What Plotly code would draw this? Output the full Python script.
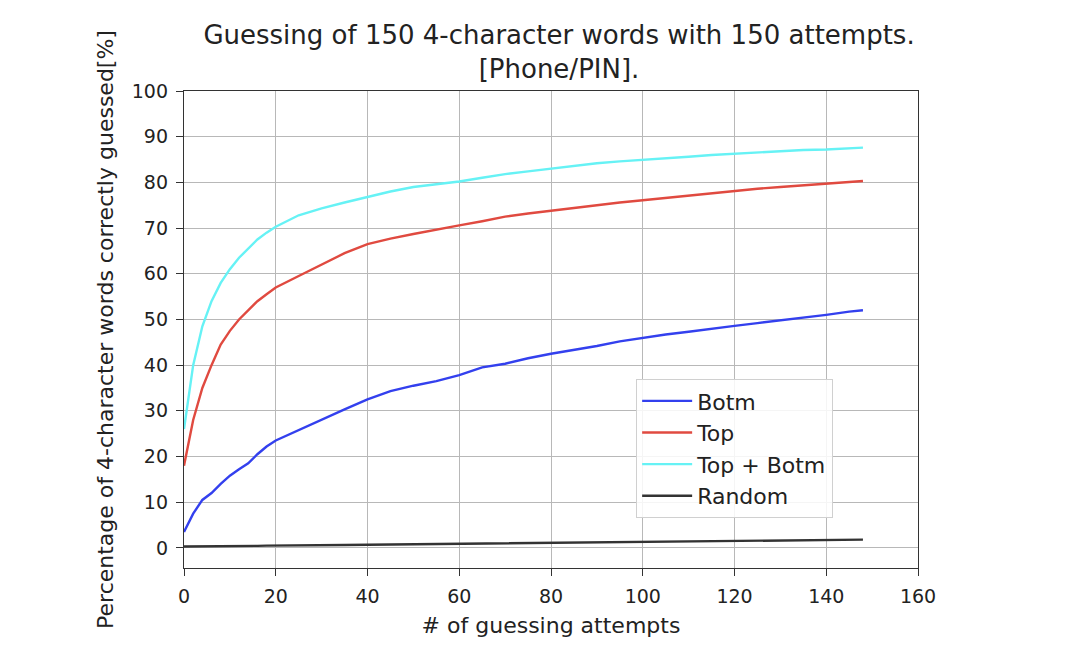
import plotly.graph_objects as go

attempts = [0, 2, 4, 6, 8, 10, 12, 14, 16, 18, 20, 25, 30, 35, 40, 45, 50, 55, 60, 65, 70,
            75, 80, 85, 90, 95, 100, 105, 110, 115, 120, 125, 130, 135, 140, 145, 148]

botm = [3.5, 7.5, 10.5, 12.0, 14.0, 15.8, 17.2, 18.5, 20.5, 22.2, 23.5, 25.8, 28.0, 30.3,
        32.5, 34.3, 35.5, 36.5, 37.8, 39.5, 40.3, 41.5, 42.5, 43.3, 44.2, 45.2, 46.0, 46.7,
        47.3, 48.0, 48.6, 49.2, 49.8, 50.3, 51.0, 51.7, 52.0]

top = [18.0, 28.0, 35.0, 40.0, 44.5, 47.5, 50.0, 52.0, 54.0, 55.5, 57.0, 59.5, 62.0, 64.5,
       66.5, 67.7, 68.7, 69.7, 70.6, 71.5, 72.5, 73.2, 73.8, 74.5, 75.1, 75.6, 76.1, 76.6,
       77.2, 77.7, 78.2, 78.6, 79.0, 79.4, 79.8, 80.1, 80.3]

top_botm = [26.0, 40.0, 48.5, 54.0, 58.0, 61.0, 63.5, 65.5, 67.5, 69.0, 70.3, 72.8, 74.3,
            75.6, 76.8, 78.0, 79.0, 79.6, 80.2, 81.0, 81.8, 82.4, 83.0, 83.5, 84.2, 84.6,
            84.9, 85.3, 85.6, 86.0, 86.3, 86.6, 86.9, 87.1, 87.2, 87.4, 87.6]

random_guess = [0.3, 0.3, 0.35, 0.35, 0.4, 0.4, 0.4, 0.45, 0.45, 0.5, 0.5, 0.55, 0.6, 0.65,
                0.7, 0.75, 0.8, 0.85, 0.9, 0.95, 1.0, 1.05, 1.1, 1.15, 1.2, 1.25, 1.3, 1.35,
                1.4, 1.45, 1.5, 1.55, 1.6, 1.65, 1.7, 1.75, 1.8]

series = [
    ("Botm", botm, "#3340ee"),
    ("Top", top, "#e04a40"),
    ("Top + Botm", top_botm, "#66f2f5"),
    ("Random", random_guess, "#333333"),
]

fig = go.Figure()
for name, vals, color in series:
    fig.add_trace(go.Scatter(x=attempts, y=vals, name=name, mode="lines",
                             line=dict(color=color, width=2.4)))

axis_style = dict(showline=True, linecolor="#333", linewidth=1.3, mirror=True,
                  ticks="outside", ticklen=7, tickcolor="#333", tickwidth=1.2,
                  ticklabelstandoff=4,
                  showgrid=True, gridcolor="#b8b8b8", gridwidth=1.2, zeroline=False,
                  tickfont=dict(size=19, color="#222"))

# page body adds 8px offset, margins compensate
fig.update_layout(
    width=1080, height=662,
    paper_bgcolor="white", plot_bgcolor="white",
    font=dict(family="DejaVu Sans", color="#222"),
    margin=dict(l=176, r=170, t=83, b=102),
    title=dict(text="Guessing of 150 4-character words with 150 attempts.<br>[Phone/PIN].",
               x=0.5102, xanchor="center", y=0.945, yanchor="top", font=dict(size=26)),
    xaxis=dict(range=[0, 160], tickvals=list(range(0, 161, 20)),
               title=dict(text="# of guessing attempts", font=dict(size=22), standoff=11),
               **axis_style),
    yaxis=dict(range=[-4.4, 100], tickvals=list(range(0, 101, 10)),
               title=dict(text="Percentage of 4-character words correctly guessed[%]",
                          font=dict(size=22), standoff=12),
               **axis_style),
    legend=dict(x=0.616, y=0.396, xanchor="left", yanchor="top", itemwidth=50,
                bgcolor="rgba(255,255,255,0.85)", bordercolor="#d0d0d0", borderwidth=1,
                font=dict(size=22, color="#222")),
)

fig.write_html("out.html")
